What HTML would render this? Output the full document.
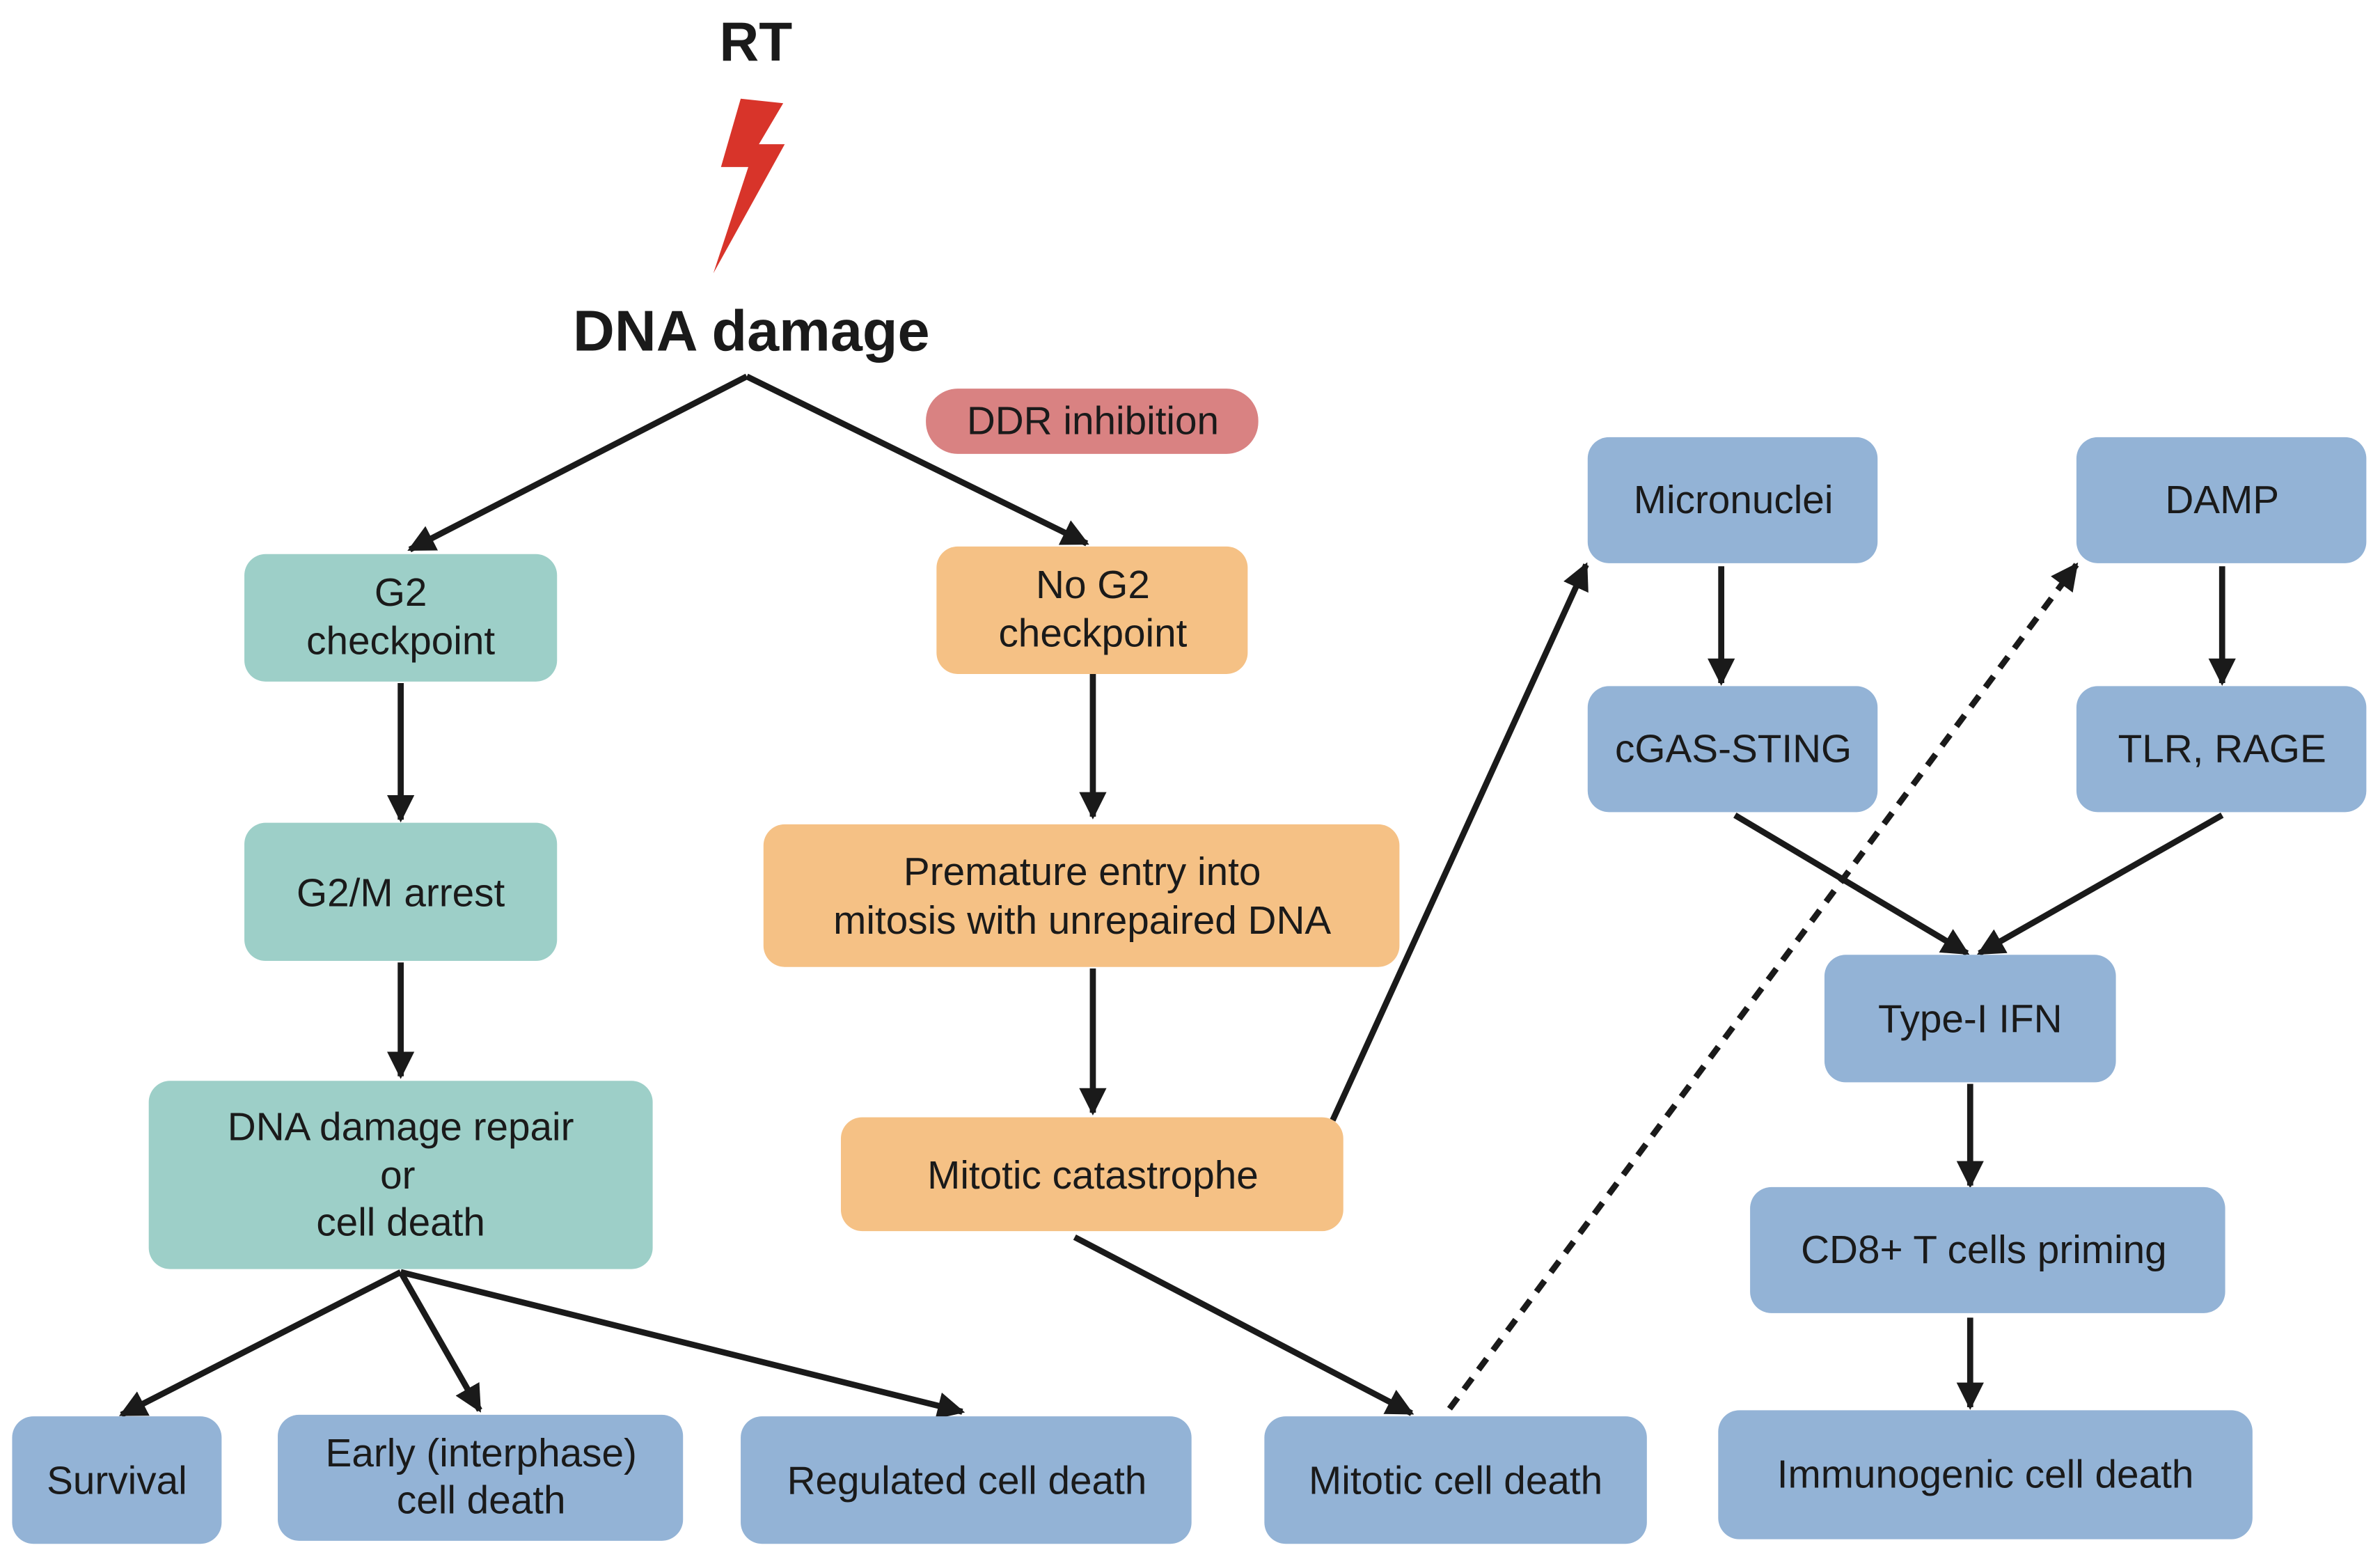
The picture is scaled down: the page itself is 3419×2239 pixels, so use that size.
<!DOCTYPE html>
<html><head><meta charset="utf-8"><style>
html,body{margin:0;padding:0;background:#fff;}
svg{display:block}
text{font-family:"Liberation Sans",sans-serif;fill:#1a1a1a;text-anchor:middle;}
</style></head><body>
<svg width="3419" height="2239" viewBox="0 0 1568 1027" preserveAspectRatio="none" xmlns="http://www.w3.org/2000/svg">
<defs>
<marker id="a" viewBox="0 0 10 10" refX="9" refY="5" markerWidth="4.5" markerHeight="4.5" orient="auto" markerUnits="strokeWidth">
<path d="M0,0 L10,5 L0,10 z" fill="#1a1a1a"/></marker>
</defs>
<rect width="1568" height="1027" fill="#fff"/>
<text x="498" y="40" font-size="36" font-weight="bold">RT</text>
<polygon points="488,65 516,68 500,95 517,95 470,180 493,110 475,110" fill="#d8342a"/>
<text x="495" y="231" font-size="38" font-weight="bold">DNA damage</text>

<g stroke="#1a1a1a" stroke-width="4" fill="none" marker-end="url(#a)">
<line x1="492" y1="248" x2="270" y2="362"/>
<line x1="492" y1="248" x2="716" y2="358"/>
<line x1="264" y1="450" x2="264" y2="540"/>
<line x1="264" y1="634" x2="264" y2="709"/>
<line x1="720" y1="444" x2="720" y2="538"/>
<line x1="720" y1="638" x2="720" y2="733"/>
<line x1="878" y1="738" x2="1045" y2="372"/>
<line x1="1134" y1="373" x2="1134" y2="450"/>
<line x1="1464" y1="373" x2="1464" y2="450"/>
<line x1="1143" y1="537" x2="1296" y2="628"/>
<line x1="1464" y1="537" x2="1304" y2="628"/>
<line x1="1298" y1="714" x2="1298" y2="781"/>
<line x1="1298" y1="868" x2="1298" y2="927"/>
<line x1="264" y1="838" x2="80" y2="932"/>
<line x1="264" y1="838" x2="316" y2="929"/>
<line x1="264" y1="838" x2="634" y2="930"/>
<line x1="708" y1="815" x2="930" y2="931"/>
<line x1="955" y1="928" x2="1368" y2="372" stroke-dasharray="9,7"/>
</g>

<g font-size="26">
<rect x="610" y="256" width="219" height="43" rx="21" fill="#d98282"/>
<text x="720" y="286">DDR inhibition</text>

<g fill="#9dcfc8">
<rect x="161" y="365" width="206" height="84" rx="14"/>
<rect x="161" y="542" width="206" height="91" rx="14"/>
<rect x="98" y="712" width="332" height="124" rx="14"/>
</g>
<text x="264" y="399">G2</text><text x="264" y="431">checkpoint</text>
<text x="264" y="597">G2/M arrest</text>
<text x="264" y="751">DNA damage repair</text><text x="262" y="783">or</text><text x="264" y="814">cell death</text>

<g fill="#f5c185">
<rect x="617" y="360" width="205" height="84" rx="14"/>
<rect x="503" y="543" width="419" height="94" rx="14"/>
<rect x="554" y="736" width="331" height="75" rx="14"/>
</g>
<text x="720" y="394">No G2</text><text x="720" y="426">checkpoint</text>
<text x="713" y="583">Premature entry into</text><text x="713" y="615">mitosis with unrepaired DNA</text>
<text x="720" y="783">Mitotic catastrophe</text>

<g fill="#93b3d6">
<rect x="1046" y="288" width="191" height="83" rx="14"/>
<rect x="1368" y="288" width="191" height="83" rx="14"/>
<rect x="1046" y="452" width="191" height="83" rx="14"/>
<rect x="1368" y="452" width="191" height="83" rx="14"/>
<rect x="1202" y="629" width="192" height="84" rx="14"/>
<rect x="1153" y="782" width="313" height="83" rx="14"/>
<rect x="1132" y="929" width="352" height="85" rx="14"/>
<rect x="8" y="933" width="138" height="84" rx="14"/>
<rect x="183" y="932" width="267" height="83" rx="14"/>
<rect x="488" y="933" width="297" height="84" rx="14"/>
<rect x="833" y="933" width="252" height="84" rx="14"/>
</g>
<text x="1142" y="338">Micronuclei</text>
<text x="1464" y="338">DAMP</text>
<text x="1142" y="502">cGAS-STING</text>
<text x="1464" y="502">TLR, RAGE</text>
<text x="1298" y="680">Type-I IFN</text>
<text x="1307" y="832">CD8+ T cells priming</text>
<text x="1308" y="980">Immunogenic cell death</text>
<text x="77" y="984">Survival</text>
<text x="317" y="966">Early (interphase)</text><text x="317" y="997">cell death</text>
<text x="637" y="984">Regulated cell death</text>
<text x="959" y="984">Mitotic cell death</text>
</g>
</svg>
</body></html>
